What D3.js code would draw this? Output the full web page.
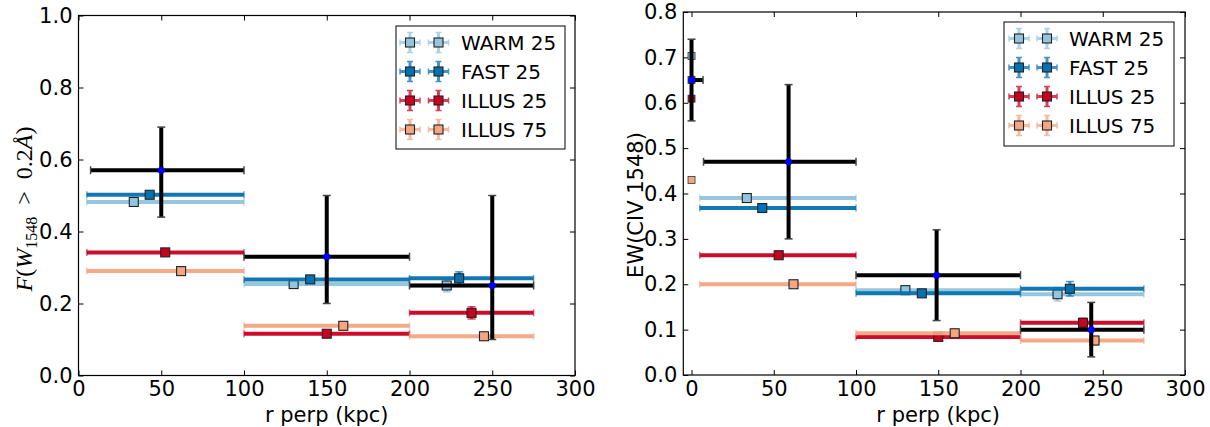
<!DOCTYPE html>
<html><head><meta charset="utf-8">
<script src="https://cdn.jsdelivr.net/npm/d3@7"></script>
<style>html,body{margin:0;padding:0;background:#fff;}svg{display:block;}</style>
</head><body>
<svg id="chart" width="1210" height="427"></svg>
<script>
// ---------- data ----------
const xTicks = [0, 50, 100, 150, 200, 250, 300];
const leftYTicks = [0.0, 0.2, 0.4, 0.6, 0.8, 1.0];
const rightYTicks = [0.0, 0.1, 0.2, 0.3, 0.4, 0.5, 0.6, 0.7, 0.8];
const seriesNames = ["WARM 25", "FAST 25", "ILLUS 25", "ILLUS 75"];
const seriesColors = ["#92c5de", "#0571b0", "#ca0020", "#f4a582"];
const binLo = [5, 100, 200];
const binHi = [100, 200, 275];

// left panel: covering fraction
const warmF_x = [33.4, 130, 222.5], warmF = [0.482, 0.254, 0.250], warmF_err = [0, 0, 0.018];
const fastF_x = [43, 140, 230], fastF = [0.502, 0.267, 0.270], fastF_err = [0, 0, 0.018];
const illus25F_x = [52.4, 150, 237.5], illus25F = [0.342, 0.116, 0.174], illus25F_err = [0, 0, 0.017];
const illus75F_x = [62, 160, 245], illus75F = [0.290, 0.138, 0.109], illus75F_err = [0, 0, 0.010];
const obsF_x = [50, 150, 250], obsF = [0.57, 0.33, 0.25];
const obsF_xlo = [7.3, 100, 200], obsF_xhi = [100, 200, 275];
const obsF_ylo = [0.44, 0.20, 0.10], obsF_yhi = [0.69, 0.50, 0.50];

// right panel: equivalent width
const warmEW_x = [33.6, 130, 222.5], warmEW = [0.390, 0.187, 0.178], warmEW_err = [0, 0, 0.015];
const fastEW_x = [43, 140, 230], fastEW = [0.368, 0.180, 0.190], fastEW_err = [0, 0, 0.016];
const illus25EW_x = [53, 150, 238], illus25EW = [0.264, 0.084, 0.115], illus25EW_err = [0, 0, 0.010];
const illus75EW_x = [62, 160, 245], illus75EW = [0.200, 0.092, 0.076], illus75EW_err = [0, 0, 0.010];
const obsEW_x = [59, 149, 243], obsEW = [0.47, 0.22, 0.10];
const obsEW_xlo = [7.3, 100, 200], obsEW_xhi = [100, 200, 275];
const obsEW_ylo = [0.30, 0.12, 0.04], obsEW_yhi = [0.64, 0.32, 0.16];
// innermost (r perp ~ 0) values
const innerEW = [0.703, 0.650, 0.609, 0.430];
const innerObsEW = 0.65, innerObsEW_lo = 0.56, innerObsEW_hi = 0.74, innerObsEW_xhi = 7;

// ---------- drawing ----------
const svg = d3.select("#chart");
const FONT = "DejaVu Sans, sans-serif";
const TFS = 21;   // tick / axis label size
const LFS = 20;   // legend size

function makePanel(cfg) {
  const x = d3.scaleLinear().domain(cfg.xDomain).range([cfg.x0, cfg.x1]);
  const y = d3.scaleLinear().domain(cfg.yDomain).range([cfg.yBot, cfg.yTop]);
  const g = svg.append("g");
  const tl = 5;
  const bottom = d3.axisBottom(x).tickValues(xTicks).tickFormat(d3.format("d")).tickSizeInner(-tl).tickSizeOuter(0).tickPadding(6);
  const top = d3.axisTop(x).tickValues(xTicks).tickFormat("").tickSizeInner(-tl).tickSizeOuter(0);
  const left = d3.axisLeft(y).tickValues(cfg.yTicks).tickFormat(d3.format(".1f")).tickSizeInner(-tl).tickSizeOuter(0).tickPadding(6);
  const right = d3.axisRight(y).tickValues(cfg.yTicks).tickFormat("").tickSizeInner(-tl).tickSizeOuter(0);
  const ax = [
    g.append("g").attr("transform", `translate(0,${cfg.yBot})`).call(bottom),
    g.append("g").attr("transform", `translate(0,${cfg.yTop})`).call(top),
    g.append("g").attr("transform", `translate(${cfg.x0},0)`).call(left),
    g.append("g").attr("transform", `translate(${cfg.x1},0)`).call(right)
  ];
  ax.forEach(a => {
    a.select(".domain").remove();
    a.selectAll("line").attr("stroke", "#000").attr("stroke-width", 1);
    a.selectAll("text").attr("font-family", FONT).attr("font-size", TFS).attr("fill", "#000");
  });
  g.append("rect").attr("x", cfg.x0).attr("y", cfg.yTop).attr("width", cfg.x1 - cfg.x0).attr("height", cfg.yBot - cfg.yTop)
    .attr("fill", "none").attr("stroke", "#000").attr("stroke-width", 1.2);

  const plot = g.append("g");
  cfg.series.forEach((s, i) => {
    const col = seriesColors[i];
    const sg = plot.append("g");
    s.y.forEach((v, k) => {
      sg.append("line").attr("x1", x(binLo[k])).attr("x2", x(binHi[k])).attr("y1", y(v)).attr("y2", y(v))
        .attr("stroke", col).attr("stroke-width", 4).attr("opacity", 0.95);
      [binLo[k], binHi[k]].forEach(xx => sg.append("line").attr("x1", x(xx)).attr("x2", x(xx))
        .attr("y1", y(v) - 3.5).attr("y2", y(v) + 3.5).attr("stroke", col).attr("stroke-width", 1.5).attr("opacity", 0.6));
      if (s.err[k] > 0) {
        sg.append("line").attr("x1", x(s.x[k])).attr("x2", x(s.x[k])).attr("y1", y(v - s.err[k])).attr("y2", y(v + s.err[k]))
          .attr("stroke", col).attr("stroke-width", 3).attr("opacity", 0.7);
        [v - s.err[k], v + s.err[k]].forEach(yy => sg.append("line").attr("x1", x(s.x[k]) - 4).attr("x2", x(s.x[k]) + 4)
          .attr("y1", y(yy)).attr("y2", y(yy)).attr("stroke", col).attr("stroke-width", 1.5).attr("opacity", 0.7));
      }
    });
    s.y.forEach((v, k) => {
      sg.append("rect").attr("x", x(s.x[k]) - 4.5).attr("y", y(v) - 4.5).attr("width", 9).attr("height", 9)
        .attr("fill", col).attr("stroke", "#222").attr("stroke-width", 1.1);
    });
  });
  if (cfg.inner) {
    cfg.inner.forEach((v, i) => {
      plot.append("rect").attr("x", x(0) - 3.5).attr("y", y(v) - 3.5).attr("width", 7).attr("height", 7)
        .attr("fill", seriesColors[i]).attr("stroke", "#333").attr("stroke-width", 0.8);
    });
  }
  const og = plot.append("g");
  const obs = cfg.obs;
  const blackBar = (x1, x2, y1, y2, w) => og.append("line").attr("x1", x1).attr("x2", x2).attr("y1", y1).attr("y2", y2)
    .attr("stroke", "#000").attr("stroke-width", w);
  obs.y.forEach((v, k) => {
    blackBar(x(obs.xlo[k]), x(obs.xhi[k]), y(v), y(v), 4);
    [obs.xlo[k], obs.xhi[k]].forEach(xx => blackBar(x(xx), x(xx), y(v) - 4, y(v) + 4, 1.5).attr("stroke", "#444"));
    blackBar(x(obs.x[k]), x(obs.x[k]), y(obs.ylo[k]), y(obs.yhi[k]), 4);
    [obs.ylo[k], obs.yhi[k]].forEach(yy => blackBar(x(obs.x[k]) - 4, x(obs.x[k]) + 4, y(yy), y(yy), 1.5).attr("stroke", "#444"));
  });
  if (cfg.innerObs) {
    const io = cfg.innerObs;
    blackBar(x(0), x(io.xhi), y(io.y), y(io.y), 4);
    blackBar(x(io.xhi), x(io.xhi), y(io.y) - 4, y(io.y) + 4, 1.5).attr("stroke", "#444");
    blackBar(x(0), x(0), y(io.lo), y(io.hi), 4);
    [io.lo, io.hi].forEach(yy => blackBar(x(0) - 4, x(0) + 4, y(yy), y(yy), 1.5).attr("stroke", "#444"));
    og.append("circle").attr("cx", x(0)).attr("cy", y(io.y)).attr("r", 3.5).attr("fill", "#0000ff");
  }
  obs.y.forEach((v, k) => {
    og.append("circle").attr("cx", x(obs.x[k])).attr("cy", y(v)).attr("r", 3.5).attr("fill", "#0000ff");
  });

  g.append("text").attr("x", (cfg.x0 + cfg.x1) / 2 + cfg.xlabDx).attr("y", 422).attr("text-anchor", "middle")
    .attr("font-family", FONT).attr("font-size", TFS).text("r perp (kpc)");

  const L = cfg.legend;
  const lg = g.append("g");
  lg.append("rect").attr("x", L.x).attr("y", L.y).attr("width", L.w).attr("height", L.h)
    .attr("fill", "#fff").attr("stroke", "#000").attr("stroke-width", 1);
  seriesNames.forEach((name, i) => {
    const cy = L.y + 16.5 + i * 29;
    const col = seriesColors[i];
    [L.m1, L.m2].forEach(mx => {
      const hg = lg.append("g").attr("opacity", 0.75);
      hg.append("line").attr("x1", mx - 10).attr("x2", mx + 10).attr("y1", cy).attr("y2", cy).attr("stroke", col).attr("stroke-width", 3);
      hg.append("line").attr("x1", mx).attr("x2", mx).attr("y1", cy - 10).attr("y2", cy + 10).attr("stroke", col).attr("stroke-width", 3);
      [-10, 10].forEach(d => {
        hg.append("line").attr("x1", mx + d).attr("x2", mx + d).attr("y1", cy - 3).attr("y2", cy + 3).attr("stroke", col).attr("stroke-width", 1.5);
        hg.append("line").attr("x1", mx - 3).attr("x2", mx + 3).attr("y1", cy + d).attr("y2", cy + d).attr("stroke", col).attr("stroke-width", 1.5);
      });
      lg.append("rect").attr("x", mx - 4.5).attr("y", cy - 4.5).attr("width", 9).attr("height", 9)
        .attr("fill", col).attr("stroke", "#222").attr("stroke-width", 1.1);
    });
    lg.append("text").attr("x", L.tx).attr("y", cy + 7).attr("font-family", FONT).attr("font-size", LFS).text(name);
  });
  return g;
}

makePanel({
  x0: 78.5, x1: 575, yTop: 15.5, yBot: 375.5, xDomain: [0, 300], yDomain: [0, 1], yTicks: leftYTicks, xlabDx: 0,
  series: [
    {x: warmF_x, y: warmF, err: warmF_err},
    {x: fastF_x, y: fastF, err: fastF_err},
    {x: illus25F_x, y: illus25F, err: illus25F_err},
    {x: illus75F_x, y: illus75F, err: illus75F_err}
  ],
  obs: {x: obsF_x, y: obsF, xlo: obsF_xlo, xhi: obsF_xhi, ylo: obsF_ylo, yhi: obsF_yhi},
  legend: {x: 396, y: 26, w: 169, h: 123, m1: 410, m2: 438.5, tx: 461}
});

makePanel({
  x0: 683.3, x1: 1185, yTop: 12, yBot: 375, xDomain: [-5, 300], yDomain: [0, 0.8], yTicks: rightYTicks, xlabDx: 4,
  series: [
    {x: warmEW_x, y: warmEW, err: warmEW_err},
    {x: fastEW_x, y: fastEW, err: fastEW_err},
    {x: illus25EW_x, y: illus25EW, err: illus25EW_err},
    {x: illus75EW_x, y: illus75EW, err: illus75EW_err}
  ],
  inner: innerEW,
  innerObs: {y: innerObsEW, lo: innerObsEW_lo, hi: innerObsEW_hi, xhi: innerObsEW_xhi},
  obs: {x: obsEW_x, y: obsEW, xlo: obsEW_xlo, xhi: obsEW_xhi, ylo: obsEW_ylo, yhi: obsEW_yhi},
  legend: {x: 1004, y: 22, w: 170, h: 124, m1: 1019, m2: 1047, tx: 1069}
});

// y labels
const yl = svg.append("text").attr("transform", "translate(32,209) rotate(-90)").attr("text-anchor", "middle")
  .attr("font-family", "Liberation Serif, DejaVu Serif, serif").attr("font-size", 24);
yl.append("tspan").attr("font-style", "italic").text("F");
yl.append("tspan").text("(");
yl.append("tspan").attr("font-style", "italic").text("W");
yl.append("tspan").attr("font-size", 16).attr("dy", 5).text("1548");
yl.append("tspan").attr("dy", -5).text("\u2002>\u20020.2");
yl.append("tspan").attr("font-style", "italic").text("Å");
yl.append("tspan").text(")");

svg.append("text").attr("transform", "translate(643,205) rotate(-90)").attr("text-anchor", "middle")
  .attr("font-family", FONT).attr("font-size", TFS).text("EW(CIV 1548)");
</script>
</body></html>
